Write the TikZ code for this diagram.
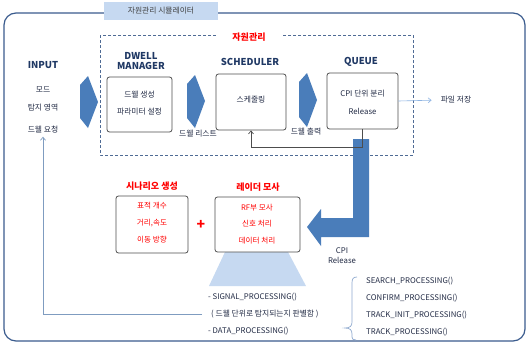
\documentclass[tikz,border=0pt]{standalone}
\usepackage{fontspec}
\setmainfont{Noto Sans CJK KR}
\usetikzlibrary{arrows.meta}
\definecolor{navy}{HTML}{1F3864}
\definecolor{txt}{HTML}{222B45}
\definecolor{framecol}{HTML}{3B5C8E}
\definecolor{titlefill}{HTML}{C6D9F1}
\definecolor{titletxt}{HTML}{404040}
\definecolor{boxgray}{HTML}{4D4D4D}
\definecolor{dashcol}{HTML}{4F6B95}
\definecolor{arrowblue}{HTML}{4A7DBA}
\definecolor{lightblue}{HTML}{C6D9F1}
\definecolor{linkblue}{HTML}{8EB4E3}
\definecolor{fbblue}{HTML}{7F9CC0}
\definecolor{bracecol}{HTML}{8EA9CF}
\definecolor{redtxt}{HTML}{FF0000}
\begin{document}
\begin{tikzpicture}[x=1pt,y=-1pt,
  boxstyle/.style={draw=boxgray, rounded corners=2.5pt, line width=0.8pt, fill=white, inner sep=0pt},
  headtxt/.style={font=\fontsize{9.5}{11}\selectfont\bfseries, text=navy, inner sep=0pt, align=center},
  smalltxt/.style={font=\fontsize{7.8}{9}\selectfont, text=txt, inner sep=0pt},
  redhead/.style={font=\fontsize{9}{10}\selectfont\bfseries, text=redtxt, inner sep=0pt},
  redsmall/.style={font=\fontsize{7.6}{9}\selectfont, text=redtxt, inner sep=0pt},
  blockarrow/.style={fill=arrowblue, draw=none},
  barb/.style={-{Straight Barb[length=3pt,width=5pt]}, line width=0.6pt}
]
\useasboundingbox (0,0) rectangle (528,346);
\fill[white] (0,0) rectangle (528,346);

% outer frame and title
\draw[framecol, line width=1.2pt, rounded corners=12pt] (4,13) rectangle (525,341);
\node[fill=titlefill, minimum width=114pt, minimum height=18pt, inner sep=0pt,
      font=\fontsize{7.8}{9}\selectfont, text=titletxt] (title) at (161,11) {자원관리 시뮬레이터};

% dashed resource-management box
\draw[dashcol, dashed, dash pattern=on 3pt off 2pt, line width=0.8pt] (100,35) rectangle (413,155);
\node[redhead, fill=white, minimum width=66pt, minimum height=10pt] (rmlabel) at (249,37) {자원관리};

% INPUT column
\node[headtxt] (input) at (43,65) {INPUT};
\node[smalltxt] (mode) at (43,90) {모드};
\node[smalltxt] (area) at (43,108) {탐지 영역};
\node[smalltxt] (req) at (43,130) {드웰 요청};

% block arrows
\fill[blockarrow] (80,85) -- (88,76) -- (98,102) -- (88,128) -- (80,118) -- cycle;
\fill[blockarrow] (187,84) -- (195,75) -- (205,101) -- (195,128) -- (187,118) -- cycle;
\fill[blockarrow] (299,82) -- (307,73) -- (317,100) -- (307,127) -- (299,117) -- cycle;

% DWELL MANAGER
\node[headtxt] (dwellhead) at (141,61.5) {DWELL\\[-1pt]MANAGER};
\node[boxstyle, minimum width=65pt, minimum height=55pt] (dwell) at (139.5,104.5) {};
\node[smalltxt] (dw1) at (139.5,95) {드웰 생성};
\node[smalltxt] (dw2) at (139.5,112) {파라미터 설정};
\node[smalltxt] (dlist) at (198,134) {드웰 리스트};

% SCHEDULER
\node[headtxt] (schedhead) at (250,62) {SCHEDULER};
\node[boxstyle, minimum width=70pt, minimum height=56pt] (sched) at (251,102) {};
\node[smalltxt] (sc1) at (251,100) {스케줄링};
\node[smalltxt] (dout) at (306,132) {드웰 출력};

% QUEUE
\node[headtxt] (queuehead) at (361,62) {QUEUE};
\node[boxstyle, minimum width=71pt, minimum height=56pt] (queue) at (362.5,101) {};
\node[smalltxt] (q1) at (362.5,94) {CPI 단위 분리};
\node[smalltxt] (q2) at (362.5,111) {Release};
\node[smalltxt] (save) at (456,100) {파일 저장};
\draw[barb, linkblue, shorten >=9pt] (queue.east) -- (save.west);

% big L arrow
\fill[blockarrow] (353,139) -- (369,139) -- (369,237) -- (321,237) -- (321,246)
  -- (307,227) -- (321,209) -- (321,218) -- (353,218) -- cycle;
\node[smalltxt, align=center] (cpirel) at (342,255.5) {CPI\\[1pt]Release};

% feedback queue -> scheduler
\draw[barb, boxgray, line width=0.7pt] (queue.south) -- ++(0,18) -| (sched.south);

% scenario
\node[redhead] (scenhead) at (152,186) {시나리오 생성};
\node[boxstyle, minimum width=72pt, minimum height=57pt] (scen) at (152,224.5) {};
\node[redsmall] (sn1) at (152,206) {표적 개수};
\node[redsmall] (sn2) at (152,223) {거리,속도};
\node[redsmall] (sn3) at (152,240) {이동 방향};
\node[font=\fontsize{14}{14}\selectfont\bfseries, text=redtxt, inner sep=0pt] (plus) at (201,225) {+};

% radar
\fill[lightblue] (225,252) -- (288,252) -- (306,286) -- (209,286) -- cycle;
\node[redhead] (radhead) at (258,187) {레이더 모사};
\node[boxstyle, minimum width=85pt, minimum height=55pt] (radar) at (257.5,224.5) {};
\node[redsmall] (rd1) at (257,208) {RF부 모사};
\node[redsmall] (rd2) at (257,224) {신호 처리};
\node[redsmall] (rd3) at (257,241) {데이터 처리};

% processing lists
\node[smalltxt, anchor=west] (sig) at (208,297) {- SIGNAL\_PROCESSING()};
\node[smalltxt, anchor=west] (judge) at (211,314) {( 드웰 단위로 탐지되는지 판별함 )};
\node[smalltxt, anchor=west] (data) at (208,331) {- DATA\_PROCESSING()};

\node[smalltxt, anchor=west] (search) at (366,281) {SEARCH\_PROCESSING()};
\node[smalltxt, anchor=west] (confirm) at (366,298) {CONFIRM\_PROCESSING()};
\node[smalltxt, anchor=west] (tinit) at (366,315) {TRACK\_INIT\_PROCESSING()};
\node[smalltxt, anchor=west] (track) at (366,332) {TRACK\_PROCESSING()};

\draw[bracecol, line width=0.7pt] (357,277) .. controls (353,277) and (352,279) .. (352,283)
  -- (352,322) .. controls (352,326) and (350,328) .. (345,328)
  .. controls (350,328) and (352,330) .. (352,334) -- (352,337)
  .. controls (352,339) and (353,340) .. (356,340);

% feedback radar -> input
\coordinate (fbstart) at (202,314);
\draw[barb, fbblue, line width=0.7pt, shorten >=3pt] (fbstart) -| (req.south);

\end{tikzpicture}
\end{document}
